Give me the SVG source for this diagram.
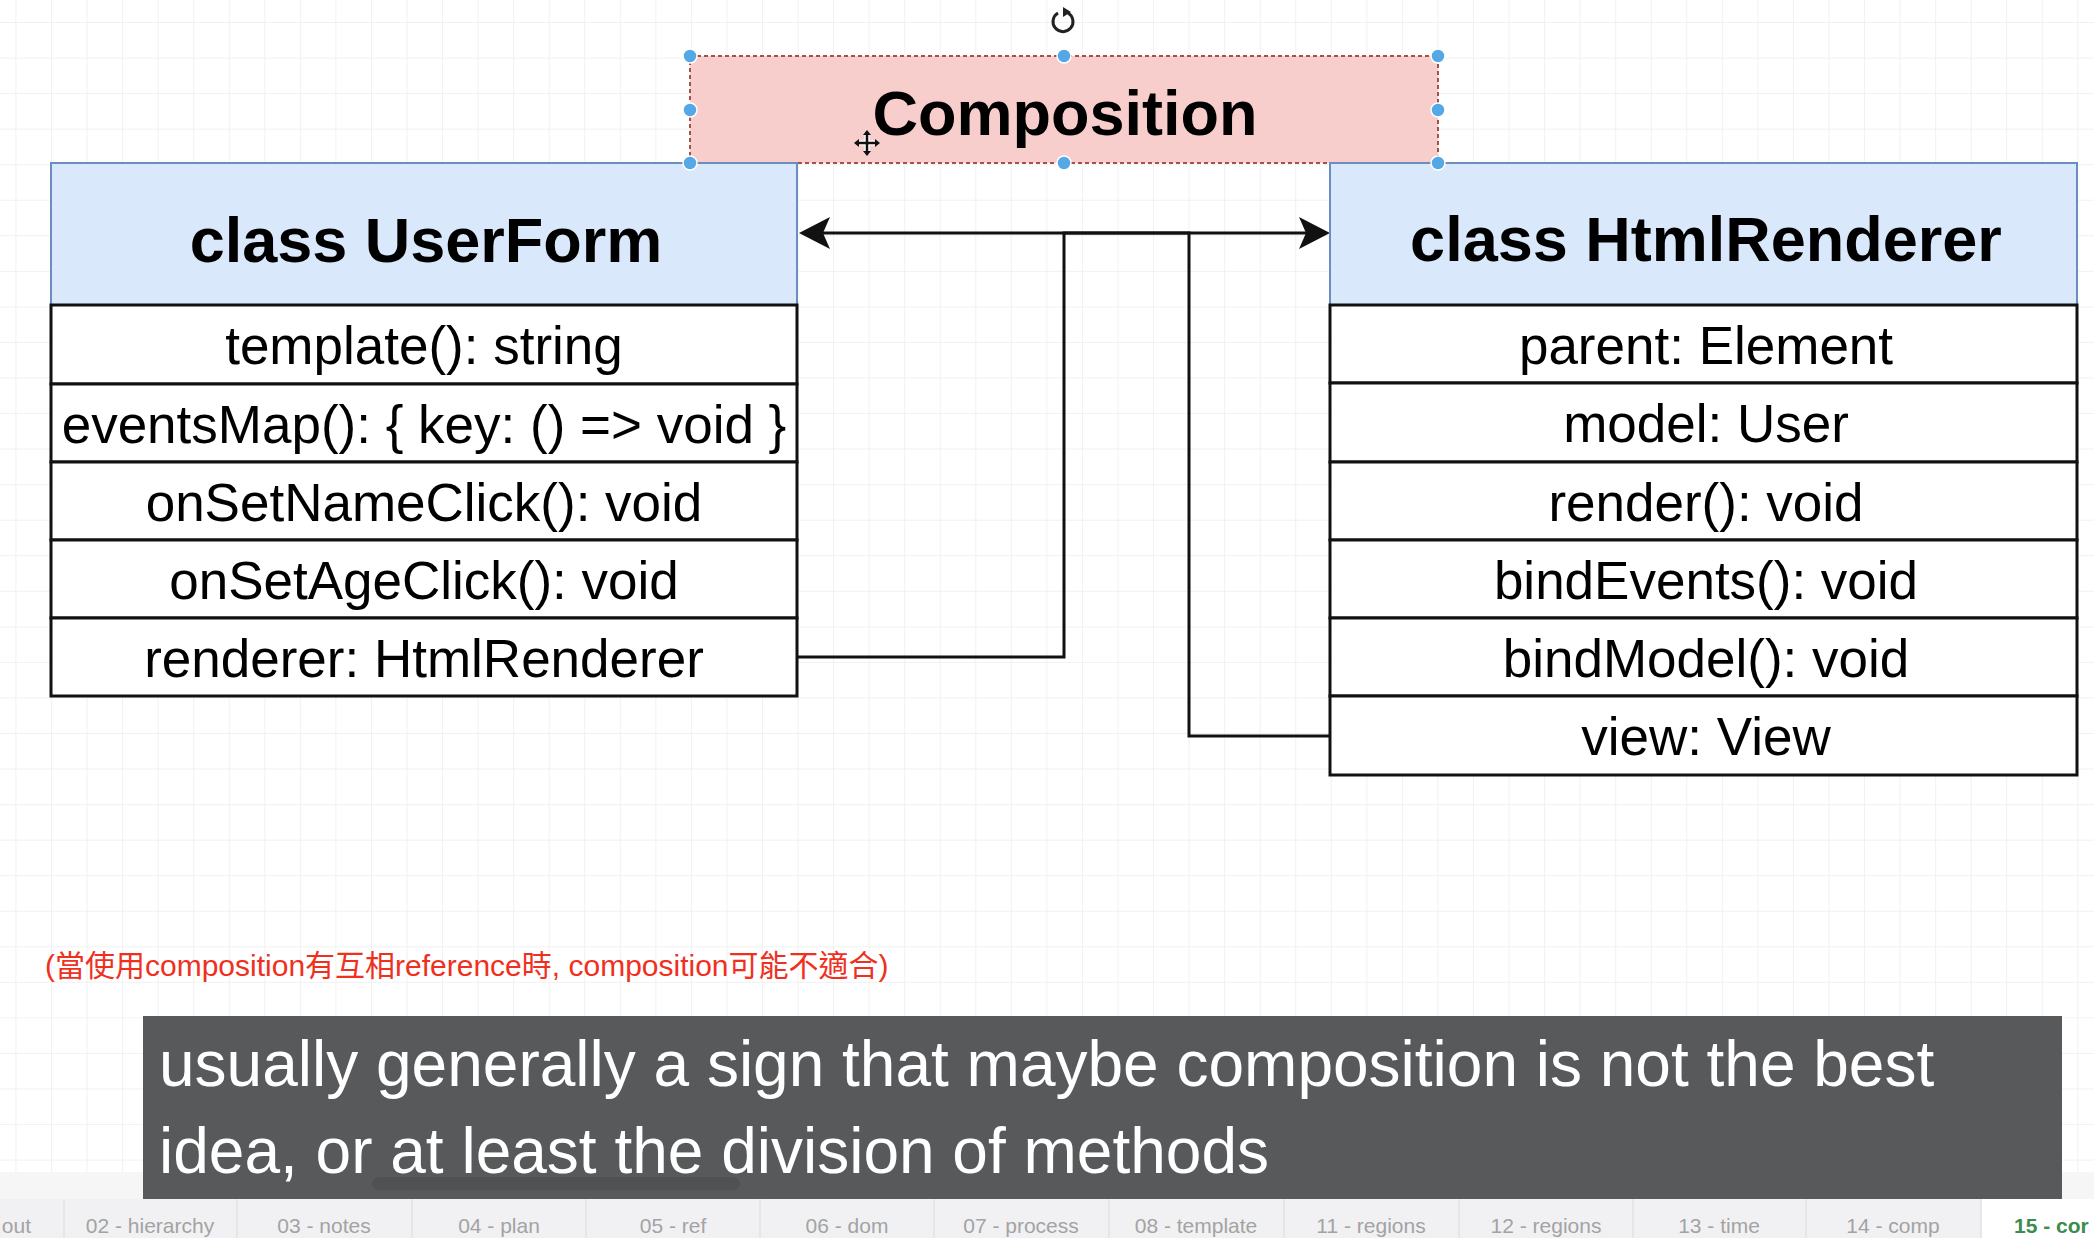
<svg xmlns="http://www.w3.org/2000/svg" width="2094" height="1238" viewBox="0 0 2094 1238">
<style>
.hdr{fill:#dae8fc;stroke:#6c8ebf;stroke-width:2}
.row{fill:#ffffff;stroke:#111111;stroke-width:3}
.title{font-family:"Liberation Sans",Arial,Helvetica,sans-serif;font-weight:bold;font-size:63px;fill:#000;text-anchor:middle}
.item{font-family:"Liberation Sans",Arial,Helvetica,sans-serif;font-size:53px;fill:#000;text-anchor:middle}
.conn{fill:none;stroke:#111111;stroke-width:3}
.handle{fill:#55a8e6;stroke:#ffffff;stroke-width:1.5}
.sub{font-family:"Liberation Sans",Arial,Helvetica,sans-serif;font-size:64px;fill:#ffffff}
.tab{font-family:"Liberation Sans",Arial,Helvetica,sans-serif;font-size:21px;fill:#a3a3a3;text-anchor:middle}
.sep{stroke:#e2e2e4;stroke-width:1.5}
</style>
<defs>
<pattern id="grid" patternUnits="userSpaceOnUse" x="51" y="22" width="35.55" height="35.55">
<path d="M0,0 H35.55 M0,0 V35.55" fill="none" stroke="#ededed" stroke-width="1.5"/>
</pattern>
<marker id="arrow" markerUnits="userSpaceOnUse" markerWidth="32" markerHeight="34" viewBox="0 0 32 34" refX="7" refY="17" orient="auto">
<path d="M31,17 L0,1 L7,17 L0,33 Z" fill="#111111"/>
</marker>
</defs>

<rect x="0" y="0" width="2094" height="1238" fill="#ffffff"/>
<rect x="0" y="0" width="2094" height="1172" fill="url(#grid)"/>
<rect x="0" y="1172" width="2094" height="27" fill="#f6f6f6"/>

<g id="connectors">
<path class="conn" d="M797,657 H1064 V233 H1306" marker-end="url(#arrow)"/>
<path class="conn" d="M1330,736 H1189 V233 H823" marker-end="url(#arrow)"/>
</g>

<g id="composition">
<rect x="690" y="56" width="748" height="107" fill="#f8cecc" stroke="#a5504c" stroke-width="2" stroke-dasharray="4 3"/>
<text class="title" x="1065" y="135">Composition</text>
</g>

<g id="userform">
<rect class="hdr" x="51" y="163" width="746" height="142"/>
<text class="title" x="426" y="262">class UserForm</text>
<rect class="row" x="51" y="305" width="746" height="79"/>
<text class="item" x="424" y="364">template(): string</text>
<rect class="row" x="51" y="384" width="746" height="78"/>
<text class="item" x="424" y="443">eventsMap(): { key: () =&gt; void }</text>
<rect class="row" x="51" y="462" width="746" height="78"/>
<text class="item" x="424" y="521">onSetNameClick(): void</text>
<rect class="row" x="51" y="540" width="746" height="78"/>
<text class="item" x="424" y="599">onSetAgeClick(): void</text>
<rect class="row" x="51" y="618" width="746" height="78"/>
<text class="item" x="424" y="677">renderer: HtmlRenderer</text>
</g>

<g id="htmlrenderer">
<rect class="hdr" x="1330" y="163" width="747" height="142"/>
<text class="title" x="1706" y="261">class HtmlRenderer</text>
<rect class="row" x="1330" y="305" width="747" height="78"/>
<text class="item" x="1706" y="364">parent: Element</text>
<rect class="row" x="1330" y="383" width="747" height="79"/>
<text class="item" x="1706" y="442">model: User</text>
<rect class="row" x="1330" y="462" width="747" height="78"/>
<text class="item" x="1706" y="521">render(): void</text>
<rect class="row" x="1330" y="540" width="747" height="78"/>
<text class="item" x="1706" y="599">bindEvents(): void</text>
<rect class="row" x="1330" y="618" width="747" height="78"/>
<text class="item" x="1706" y="677">bindModel(): void</text>
<rect class="row" x="1330" y="696" width="747" height="79"/>
<text class="item" x="1706" y="755">view: View</text>
</g>

<g id="selection">
<circle class="handle" cx="690" cy="56" r="7"/>
<circle class="handle" cx="1064" cy="56" r="7"/>
<circle class="handle" cx="1438" cy="56" r="7"/>
<circle class="handle" cx="690" cy="110" r="7"/>
<circle class="handle" cx="1438" cy="110" r="7"/>
<circle class="handle" cx="690" cy="163" r="7"/>
<circle class="handle" cx="1064" cy="163" r="7"/>
<circle class="handle" cx="1438" cy="163" r="7"/>
<path d="M1058,13 A10,10 0 1 0 1068,13" fill="none" stroke="#222" stroke-width="3"/>
<path d="M1063,7 L1071,12 L1063,17 Z" fill="#222"/>
<g stroke="#ffffff" stroke-width="5" fill="none"><path d="M867,133 V153 M857,143 H877"/></g>
<g stroke="#111111" stroke-width="2.5" fill="none"><path d="M867,133 V153 M857,143 H877"/></g>
<path d="M867,130 L863,135 H871 Z M867,156 L863,151 H871 Z M854,143 L859,139 V147 Z M880,143 L875,139 V147 Z" fill="#111"/>
</g>

<text x="45" y="976" font-family="'Liberation Sans','Noto Sans CJK TC',sans-serif" font-size="30" fill="#f0301e">(當使用composition有互相reference時, composition可能不適合)</text>

<g id="subtitle">
<rect x="143" y="1016" width="1919" height="183" fill="#58595b"/>
<rect x="372" y="1177" width="368" height="13" rx="6.5" fill="#505153"/>
<text class="sub" x="159" y="1086">usually generally a sign that maybe composition is not the best</text>
<text class="sub" x="159" y="1173">idea, or at least the division of methods</text>
</g>

<g id="tabs">
<rect x="0" y="1199" width="2094" height="39" fill="#f1f1f3"/>
<rect x="1981" y="1199" width="113" height="39" fill="#ffffff"/>
<line class="sep" x1="64" y1="1199" x2="64" y2="1238"/>
<line class="sep" x1="237" y1="1199" x2="237" y2="1238"/>
<line class="sep" x1="412" y1="1199" x2="412" y2="1238"/>
<line class="sep" x1="586" y1="1199" x2="586" y2="1238"/>
<line class="sep" x1="760" y1="1199" x2="760" y2="1238"/>
<line class="sep" x1="934" y1="1199" x2="934" y2="1238"/>
<line class="sep" x1="1109" y1="1199" x2="1109" y2="1238"/>
<line class="sep" x1="1284" y1="1199" x2="1284" y2="1238"/>
<line class="sep" x1="1459" y1="1199" x2="1459" y2="1238"/>
<line class="sep" x1="1633" y1="1199" x2="1633" y2="1238"/>
<line class="sep" x1="1806" y1="1199" x2="1806" y2="1238"/>
<line class="sep" x1="1981" y1="1199" x2="1981" y2="1238"/>
<text class="tab" x="31" y="1233" style="text-anchor:end">out</text>
<text class="tab" x="150" y="1233">02 - hierarchy</text>
<text class="tab" x="324" y="1233">03 - notes</text>
<text class="tab" x="499" y="1233">04 - plan</text>
<text class="tab" x="673" y="1233">05 - ref</text>
<text class="tab" x="847" y="1233">06 - dom</text>
<text class="tab" x="1021" y="1233">07 - process</text>
<text class="tab" x="1196" y="1233">08 - template</text>
<text class="tab" x="1371" y="1233">11 - regions</text>
<text class="tab" x="1546" y="1233">12 - regions</text>
<text class="tab" x="1719" y="1233">13 - time</text>
<text class="tab" x="1893" y="1233">14 - comp</text>
<text x="2014" y="1233" font-family="'Liberation Sans',Arial,sans-serif" font-size="21" font-weight="bold" fill="#3d8c4f">15 - cor</text>
</g>
</svg>
